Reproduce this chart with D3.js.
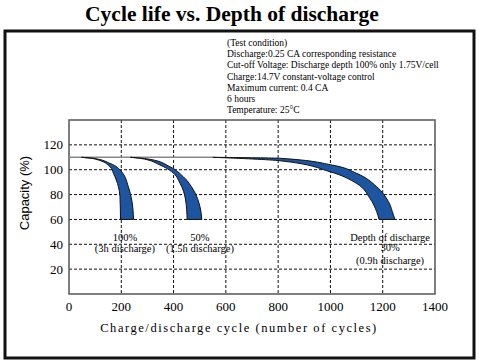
<!DOCTYPE html>
<html>
<head>
<meta charset="utf-8">
<script src="https://cdn.jsdelivr.net/npm/d3@7"></script>
<style>
body { margin: 0; background: #fff; }
svg { display: block; }
</style>
</head>
<body>
<svg id="chart" width="479" height="364"></svg>
<script>
// ticks
var xTicks = [0, 200, 400, 600, 800, 1000, 1200, 1400]
var yTicks = [20, 40, 60, 80, 100, 120]

// test condition lines
var conditions = [
    "(Test condition)",
    "Discharge:0.25 CA corresponding  resistance",
    "Cut-off Voltage: Discharge depth 100% only 1.75V/cell",
    "Charge:14.7V constant-voltage control",
    "Maximum current: 0.4 CA",
    "6 hours",
    "Temperature: 25\u00B0C"
]

// bands: [cycles, capacity %], inner (left) and outer (right) edges
var band100Left = [[48, 110], [100, 108.6], [157, 102.4], [170, 97.1], [189, 86.3], [195, 78.3], [197, 60]]
var band100Right = [[48, 110], [93, 109.2], [157, 105.1], [201, 98.4], [227, 86.3], [240, 75.6], [247, 60]]
var band50Left = [[235, 110], [272, 109.2], [348, 103.8], [393, 98.4], [425, 89], [446, 75.6], [452, 60]]
var band50Right = [[235, 110], [310, 108.4], [386, 102.4], [437, 94.4], [476, 83.7], [501, 70.2], [508, 60]]
var band30Left = [[550, 110], [807, 107.2], [998, 98.4], [1100, 89], [1151, 77], [1177, 66.2], [1186, 60]]
var band30Right = [[550, 110], [807, 109.2], [1010, 103.6], [1100, 97.1], [1177, 86.3], [1222, 74.3], [1241, 63.6], [1247, 60]]
var flatLine = [[0, 110], [550, 110]]

// labels: [cycles, capacity, text]
var notes = [
    [214, 42.6, "100%"],
    [214, 33.8, "(3h discharge)"],
    [501, 42.6, "50%"],
    [501, 33.8, "(1.5h discharge)"],
    [1228, 43, "Depth of discharge"],
    [1228, 34.2, "30%"],
    [1228, 24.5, "(0.9h discharge)"]
]

var svg = d3.select("#chart")
var x = d3.scaleLinear().domain([0, 1400]).range([69, 435])
var y = d3.scaleLinear().domain([0, 140]).range([294, 120])

// outer frame
svg.append("rect")
    .attr("x", 5).attr("y", 31)
    .attr("width", 469).attr("height", 327)
    .attr("fill", "white")
    .attr("stroke", "#111")
    .attr("stroke-width", 3)

svg.append("text")
    .attr("x", 232).attr("y", 21)
    .attr("text-anchor", "middle")
    .style("font-family", "Liberation Serif, Times New Roman, serif")
    .style("font-weight", "bold")
    .style("font-size", "21.5px")
    .text("Cycle life vs. Depth of discharge")

svg.append("g").selectAll("text")
    .data(conditions)
    .enter().append("text")
        .attr("x", 227)
        .attr("y", (d, i) => 46 + i * 11.2)
        .style("font-family", "Liberation Serif, Times New Roman, serif")
        .style("font-size", "9.5px")
        .text(d => d)

// grid
var grid = svg.append("g")
    .attr("stroke", "#111")
    .attr("stroke-dasharray", "3,2")
    .attr("stroke-width", 1)
grid.selectAll(".vg")
    .data(xTicks.filter(d => d > 0 && d < 1400))
    .enter().append("line")
        .attr("x1", d => x(d)).attr("x2", d => x(d))
        .attr("y1", y(140)).attr("y2", y(0))
grid.selectAll(".hg")
    .data(yTicks)
    .enter().append("line")
        .attr("x1", x(0)).attr("x2", x(1400))
        .attr("y1", d => y(d)).attr("y2", d => y(d))

// plot box
svg.append("rect")
    .attr("x", x(0)).attr("y", y(140))
    .attr("width", x(1400) - x(0)).attr("height", y(0) - y(140))
    .attr("fill", "none")
    .attr("stroke", "#555")
    .attr("stroke-width", 1.5)

var line = d3.line()
    .x(d => x(d[0]))
    .y(d => y(d[1]))

svg.append("path")
    .attr("d", line(flatLine))
    .attr("fill", "none")
    .attr("stroke", "#888")
    .attr("stroke-width", 1.5)

var curveLine = d3.line()
    .x(d => x(d[0]))
    .y(d => y(d[1]))
    .curve(d3.curveMonotoneY)

function bandPath(left, right) {
    var a = curveLine(left.slice().reverse())
    var b = curveLine(right)
    return a + "L" + b.slice(1) + "Z"
}

var bands = [[band100Left, band100Right], [band50Left, band50Right], [band30Left, band30Right]]
svg.append("g").selectAll("path")
    .data(bands)
    .enter().append("path")
        .attr("d", d => bandPath(d[0], d[1]))
        .attr("fill", "#1e55a0")
        .attr("stroke", "#111")
        .attr("stroke-width", 1)
        .attr("stroke-linejoin", "round")

// tick labels
svg.append("g").selectAll("text")
    .data(xTicks)
    .enter().append("text")
        .attr("x", d => x(d))
        .attr("y", 310.5)
        .attr("text-anchor", "middle")
        .style("font-family", "Liberation Serif, Times New Roman, serif")
        .style("font-size", "13px")
        .text(d => d)

svg.append("g").selectAll("text")
    .data(yTicks)
    .enter().append("text")
        .attr("x", 63)
        .attr("y", d => y(d) + 4.5)
        .attr("text-anchor", "end")
        .style("font-family", "Liberation Serif, Times New Roman, serif")
        .style("font-size", "13px")
        .text(d => d)

svg.append("text")
    .attr("transform", "translate(29,193) rotate(-90)")
    .attr("text-anchor", "middle")
    .style("font-family", "Liberation Sans, Arial, sans-serif")
    .style("font-size", "13px")
    .text("Capacity (%)")

svg.append("text")
    .attr("x", 239).attr("y", 332)
    .attr("text-anchor", "middle")
    .style("font-family", "Liberation Serif, Times New Roman, serif")
    .style("font-size", "12.5px")
    .style("letter-spacing", "1.55px")
    .text("Charge/discharge cycle (number of cycles)")

svg.append("g").selectAll("text")
    .data(notes)
    .enter().append("text")
        .attr("x", d => x(d[0]))
        .attr("y", d => y(d[1]))
        .attr("text-anchor", "middle")
        .style("font-family", "Liberation Serif, Times New Roman, serif")
        .style("font-size", "10.5px")
        .text(d => d[2])
</script>
</body>
</html>
